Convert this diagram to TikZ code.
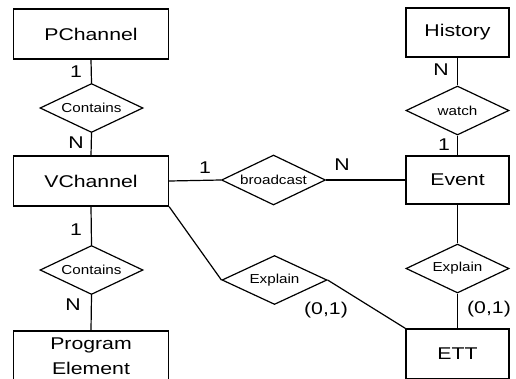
\documentclass[tikz,border=0pt]{standalone}
\usepackage{fontspec}
\setmainfont{Liberation Sans}
\newfontfamily\boxfont[FakeStretch=1.25]{Liberation Sans}
\newfontfamily\relfont[FakeStretch=1.17]{Liberation Sans}
\usetikzlibrary{shapes.geometric}
\tikzset{
  entity/.style={draw, rectangle, line width=1.2pt, minimum width=155pt, minimum height=50pt,
    inner sep=0pt, align=center, font=\boxfont\fontsize{17}{25}\selectfont},
  relation/.style={draw, diamond, aspect=2.1, line width=1.2pt, minimum width=103pt, minimum height=49pt,
    inner sep=0pt, font=\relfont\fontsize{13}{15}\selectfont},
  card/.style={inner sep=0pt, font=\boxfont\fontsize{17}{20}\selectfont},
  link/.style={line width=1.2pt}
}
\begin{document}
\begin{tikzpicture}[x=1pt,y=-1pt]
\useasboundingbox (0,0) rectangle (516,378);
\clip (0,0) rectangle (516,378);
% entities
\node[entity] (pch) at (91,34) {PChannel};
\node[entity] (vch) at (91,181) {VChannel};
\node[entity] (pe) at (91,356) {Program\\Element};
\node[entity, minimum width=103pt, minimum height=49pt] (hist) at (457.5,32.5) {History};
\node[entity, minimum width=103pt, minimum height=48pt] (ev) at (457.5,180) {Event};
\node[entity, minimum width=103pt] (ett) at (457.5,354) {ETT};
% relations
\node[relation] (c1) at (91.5,108) {Contains};
\node[relation] (c2) at (91.5,270) {Contains};
\node[relation, minimum width=104pt, minimum height=50pt] (bc) at (273.5,180) {broadcast};
\node[relation] (wa) at (457.5,110.5) {watch};
\node[relation, minimum width=105pt] (ex1) at (274.5,280) {Explain};
\node[relation] (ex2) at (457.5,268.5) {Explain};
% connectors
\draw[link] (pch.south) -- (c1.north);
\draw[link] (c1.south) -- (vch.north);
\draw[link] (vch.south) -- (c2.north);
\draw[link] (c2.south) -- (pe.north);
\draw[link] (vch.east) -- (bc.west);
\draw[link] (bc.east) -- (ev.west);
\draw[link] (hist.south) -- (wa.north);
\draw[link] (wa.south) -- (ev.north);
\draw[link] (ev.south) -- (ex2.north);
\draw[link] (ex2.south) -- (ett.north);
\draw[link] (vch.south east) -- (ex1.west);
\draw[link] (ex1.east) -- (ett.north west);
% cardinalities
\node[card] (k1) at (76,72) {1};
\node[card] (k2) at (76,143) {N};
\node[card] (k3) at (205,168) {1};
\node[card] (k4) at (342,165) {N};
\node[card] (k5) at (441,70) {N};
\node[card] (k6) at (444,145) {1};
\node[card] (k7) at (76,230) {1};
\node[card] (k8) at (73,305) {N};
\node[card] (k9) at (326,310) {(0,1)};
\node[card] (k10) at (489,309) {(0,1)};
\end{tikzpicture}
\end{document}
